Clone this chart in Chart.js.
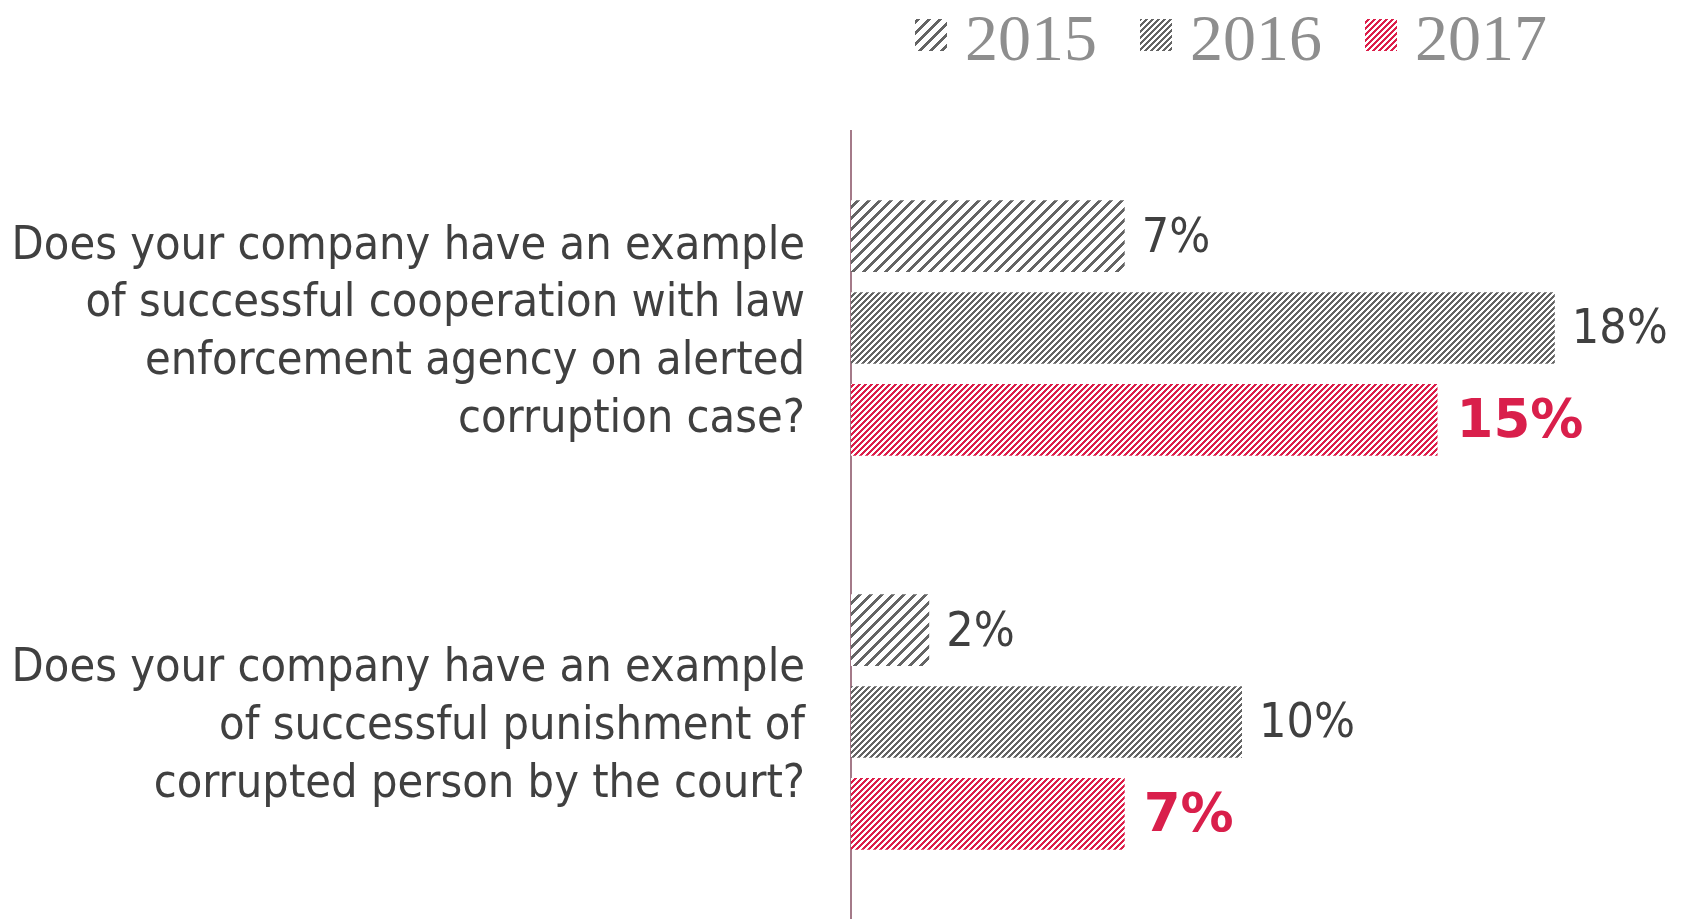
<!DOCTYPE html>
<html>
<head>
<meta charset="utf-8">
<script src="https://cdn.jsdelivr.net/npm/chart.js@4"></script>
<style>
  html, body { margin: 0; padding: 0; background: #ffffff; }
  #wrap { width: 1687px; height: 919px; position: relative; }
</style>
</head>
<body>
<div id="wrap"><canvas id="c" width="1687" height="919"></canvas></div>
<script>
// ---- data ----
const categories = [
  ["Does your company have an example", "of successful cooperation with law", "enforcement agency on alerted", "corruption case?"],
  ["Does your company have an example", "of successful punishment of", "corrupted person by the court?"]
];
const seriesNames = ["2015", "2016", "2017"];
const values2015 = [7, 2];
const values2016 = [18, 10];
const values2017 = [15, 7];

// ---- styles ----
const GRAY = "#646464";
const RED = "#dc1e4a";
const TEXT = "#404040";
const SANS = "'DejaVu Sans Condensed', 'DejaVu Sans', sans-serif";
const SANS_BOLD = "'DejaVu Sans', sans-serif";

function hatch(color, period, width) {
  const c = document.createElement("canvas");
  c.width = period; c.height = period;
  const ctx = c.getContext("2d");
  ctx.fillStyle = "#ffffff";
  ctx.fillRect(0, 0, period, period);
  ctx.fillStyle = color;
  for (let y = 0; y < period; y++) {
    for (let x = 0; x < period; x++) {
      if (((x + y) % period) < width) ctx.fillRect(x, y, 1, 1);
    }
  }
  return document.getElementById("c").getContext("2d").createPattern(c, "repeat");
}

const patterns = [hatch(GRAY, 11, 4), hatch(GRAY, 6, 3), hatch(RED, 6, 3)];

const valueLabels = {
  id: "valueLabels",
  afterDatasetsDraw(chart) {
    const ctx = chart.ctx;
    ctx.save();
    ctx.textBaseline = "middle";
    ctx.textAlign = "left";
    chart.data.datasets.forEach((ds, di) => {
      const meta = chart.getDatasetMeta(di);
      meta.data.forEach((bar, i) => {
        const bold = di === 2;
        ctx.font = bold ? ("bold 53px " + SANS_BOLD) : ("48px " + SANS);
        ctx.fillStyle = bold ? "#d91f4b" : TEXT;
        ctx.fillText(ds.data[i] + "%", bar.x + (bold ? 19 : 17), bar.y + 3);
      });
    });
    ctx.restore();
  }
};

const customLegend = {
  id: "customLegend",
  afterDraw(chart) {
    const ctx = chart.ctx;
    ctx.save();
    ctx.font = "66px 'Liberation Serif', serif";
    ctx.textBaseline = "alphabetic";
    ctx.textAlign = "left";
    let x = 915;
    chart.data.datasets.forEach((ds, di) => {
      ctx.fillStyle = ds.backgroundColor;
      ctx.fillRect(x, 19, 32, 32);
      x += 32 + 18;
      ctx.fillStyle = "#8e8e8e";
      ctx.fillText(ds.label, x, 60);
      x += ctx.measureText(ds.label).width + 43;
    });
    ctx.restore();
  }
};

new Chart(document.getElementById("c"), {
  type: "bar",
  data: {
    labels: categories,
    datasets: [
      { label: seriesNames[0], data: values2015, backgroundColor: patterns[0] },
      { label: seriesNames[1], data: values2016, backgroundColor: patterns[1] },
      { label: seriesNames[2], data: values2017, backgroundColor: patterns[2] }
    ]
  },
  options: {
    responsive: false,
    animation: false,
    indexAxis: "y",
    layout: { padding: { top: 131, right: 54, bottom: 0, left: 0 } },
    datasets: { bar: { categoryPercentage: 0.7, barPercentage: 0.78, borderWidth: 0 } },
    plugins: { legend: { display: false }, tooltip: { enabled: false } },
    scales: {
      x: { min: 0, max: 20, display: false },
      y: {
        afterFit(s) { s.width = 851; s.paddingTop = 0; s.paddingBottom = 0; },
        grid: { display: false, drawTicks: false },
        border: { display: true, color: "#a47a89", width: 2 },
        ticks: {
          color: TEXT,
          padding: 46,
          labelOffset: 5,
          font: { family: SANS, size: 46.5, lineHeight: 1.24 }
        }
      }
    }
  },
  plugins: [valueLabels, customLegend]
});
</script>
</body>
</html>
